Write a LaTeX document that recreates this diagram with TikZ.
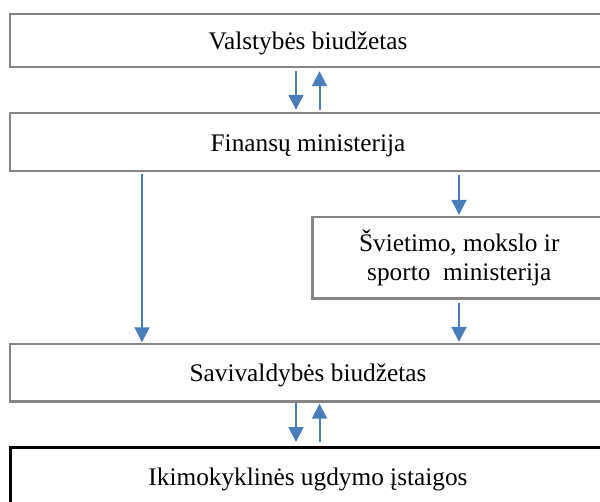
\documentclass[tikz,border=0pt]{standalone}
\usepackage{fontspec}
\setmainfont{Liberation Serif}
\usetikzlibrary{arrows.meta}
\definecolor{boxgray}{HTML}{858585}
\definecolor{flowblue}{HTML}{4A7EBB}
\tikzset{
  box/.style={draw=boxgray, line width=2.4pt, rectangle, inner sep=0pt,
    align=center, font=\fontsize{25.3}{28.5}\selectfont},
  onebox/.style={box, text height=18pt, text depth=0pt},
  lastbox/.style={onebox, draw=black, line width=3pt},
  flow/.style={draw=flowblue, line width=2pt,
    -{Triangle[length=15pt,width=15pt]}},
}
\begin{document}
\begin{tikzpicture}[x=1pt,y=-1pt]
  \useasboundingbox (0,0) rectangle (600,501);
  \clip (0,0) rectangle (600,501);
  % budget and ministry boxes
  \node[onebox, minimum width=596, minimum height=53] (vb) at (308,40.5) {Valstybės biudžetas};
  \node[onebox, minimum width=596, minimum height=58] (fm) at (308,142) {Finansų ministerija};
  \node[box, minimum width=293.5, minimum height=81.5] (sm) at (459.25,257.75) {Švietimo, mokslo ir\\sporto~ ministerija};
  \node[onebox, minimum width=596, minimum height=57.5] (sb) at (308,372.75) {Savivaldybės biudžetas};
  \node[lastbox, minimum width=596, minimum height=58] (iu) at (308,476.5) {Ikimokyklinės ugdymo įstaigos};
  % arrow columns
  \coordinate (cL) at (296,0);
  \coordinate (cR) at (319.5,0);
  \coordinate (cF) at (142,0);
  \coordinate (cS) at (459,0);
  % flows
  \draw[flow, shorten <=3pt, shorten >=2pt] (vb.south -| cL) -- (fm.north -| cL);
  \draw[flow, shorten <=2pt, shorten >=3pt] (fm.north -| cR) -- (vb.south -| cR);
  \draw[flow, shorten <=2pt, shorten >=0.5pt] (fm.south -| cF) -- (sb.north -| cF);
  \draw[flow, shorten <=3pt, shorten >=1pt] (fm.south -| cS) -- (sm.north -| cS);
  \draw[flow, shorten <=3pt, shorten >=1pt] (sm.south -| cS) -- (sb.north -| cS);
  \draw[flow, shorten <=0pt, shorten >=4pt] (sb.south -| cL) -- (iu.north -| cL);
  \draw[flow, shorten <=4pt, shorten >=1pt] (iu.north -| cR) -- (sb.south -| cR);
\end{tikzpicture}
\end{document}
